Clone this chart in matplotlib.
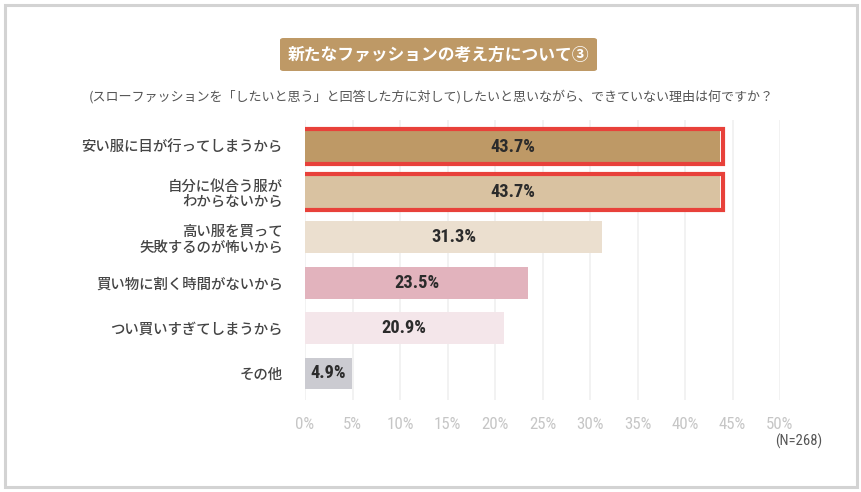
import matplotlib
matplotlib.use("Agg")
import matplotlib.pyplot as plt
from matplotlib.patches import Rectangle, FancyBboxPatch
from matplotlib import font_manager

plt.rcParams['font.family'] = ['Noto Sans CJK JP', 'DejaVu Sans']

_names = {f.name for f in font_manager.fontManager.ttflist}
NARROW = "DejaVu Sans"
_narrow_found = False
for cand in ["Roboto Condensed", "Liberation Sans Narrow", "DejaVu Sans Condensed",
             "Open Sans Condensed", "Noto Sans Condensed"]:
    if cand in _names:
        NARROW = cand
        _narrow_found = True
        break

categories = ["安い服に目が行ってしまうから",
              "自分に似合う服が\nわからないから",
              "高い服を買って\n失敗するのが怖いから",
              "買い物に割く時間がないから",
              "つい買いすぎてしまうから",
              "その他"]
values = [43.7, 43.7, 31.3, 23.5, 20.9, 4.9]
value_labels = ["43.7%", "43.7%", "31.3%", "23.5%", "20.9%", "4.9%"]
colors = ["#BE9966", "#D9C2A1", "#EBDFCF", "#E2B3BD", "#F4E6EA", "#CBCBD1"]
highlight = [True, True, False, False, False, False]
xticks = [0, 5, 10, 15, 20, 25, 30, 35, 40, 45, 50]
xtick_labels = ["0%", "5%", "10%", "15%", "20%", "25%", "30%", "35%", "40%", "45%", "50%"]
title = "新たなファッションの考え方について③"
subtitle = "(スローファッションを「したいと思う」と回答した方に対して)したいと思いながら、できていない理由は何ですか？"
note = "(N=268)"

W, H = 862, 492
fig = plt.figure(figsize=(W / 100, H / 100), dpi=100)
fig.patch.set_facecolor("white")

# outer frame
fig.patches.append(Rectangle((5 / W, 5 / H), 852 / W, 482 / H, transform=fig.transFigure,
                             fill=False, edgecolor="#D3D3D3", linewidth=2.2))

ax = fig.add_axes([305 / W, (H - 400) / H, 475 / W, 280 / H])
y = list(range(len(categories)))
bars = ax.barh(y, values, height=0.70, color=colors, zorder=2)
for b, h in zip(bars, highlight):
    if h:
        x0, y0 = b.get_x(), b.get_y()
        w, hh = b.get_width(), b.get_height()
        dx, dy = 0.3, 0.04
        ax.add_patch(Rectangle((x0 - dx, y0 - dy), w + 2 * dx, hh + 2 * dy,
                               fill=False, edgecolor="#E8413A", linewidth=3.0, zorder=3))

vfs = 13.2 if _narrow_found else 11
tfs = 12.2 if _narrow_found else 10
for b, lab in zip(bars, value_labels):
    ax.text(b.get_width() / 2, b.get_y() + b.get_height() / 2, lab,
            ha="center", va="center", fontsize=vfs, color="#2B2B2B",
            fontweight="bold", family=NARROW, zorder=4)

ax.set_xlim(0, 50)
ax.set_ylim(len(categories) - 1 + 0.584, -0.584)
ax.set_xticks(xticks)
ax.set_xticklabels(xtick_labels, color="#C6C6C6", fontsize=tfs, family=NARROW)
ax.set_yticks(y)
ax.set_yticklabels(categories, color="#444444", fontsize=10.4, fontweight="medium",
                   linespacing=1.15)
ax.tick_params(axis="x", length=0, pad=12)
ax.tick_params(axis="y", length=0, pad=16)
ax.grid(axis="x", color="#F0F0F0", linewidth=1.2, zorder=0)
ax.set_axisbelow(True)
for s in ax.spines.values():
    s.set_visible(False)

# title box
fig.patches.append(FancyBboxPatch((280 / W, (H - 71) / H), 317 / W, 33 / H,
                                  boxstyle="round,pad=0,rounding_size=0.004",
                                  transform=fig.transFigure, facecolor="#BE9966",
                                  edgecolor="none"))
fig.text(438.5 / W, (H - 55) / H, title, ha="center", va="center", color="white",
         fontsize=12.1, fontweight="bold")
fig.text(431 / W, (H - 97) / H, subtitle, ha="center", va="center", color="#555555",
         fontsize=9.4)
fig.text(822 / W, (H - 441) / H, note, ha="right", va="center", color="#555555",
         fontsize=10.5 if _narrow_found else 9.5, family=NARROW)

fig.savefig("out.png", dpi=100, facecolor="white")
